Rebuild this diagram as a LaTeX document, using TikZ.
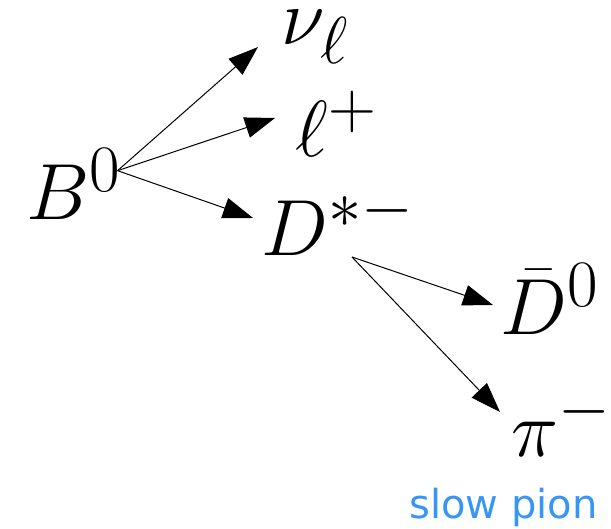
\documentclass[tikz,border=0pt]{standalone}
\usepackage{fontspec}
\usepackage{tikz}
\usetikzlibrary{calc, arrows.meta}
\definecolor{pionBlue}{RGB}{55, 150, 245}
\newfontfamily\tagfont{DejaVu Sans}

\begin{document}
\begin{tikzpicture}[x=0.5pt, y=-0.5pt,
    particle/.style={inner sep=0pt, anchor=base west, font=\Huge, scale=1.6, transform shape},
    decay/.style={line width=0.5pt, -{Triangle[length=15pt, width=10.5pt]}}]
  \useasboundingbox (0,0) rectangle (611,529);

  % Particles
  \node[particle] (B0) at (26,220) {$B^0$};
  \node[particle] (nu) at (281,45) {$\nu_\ell$};
  \node[particle] (lp) at (295,157) {$\ell^+$};
  \node[particle] (Dst) at (261,256) {$D^{*-}$};
  \node[particle] (D0) at (500,335) {$\bar{D}^0$};
  \node[particle] (pi) at (511,457) {$\pi^-$};
  \node[inner sep=0pt, anchor=base east, text=pionBlue, font=\tagfont\fontsize{20}{24}\selectfont]
    (slow) at (598,518) {slow pion};

  % B0 decay
  \draw[decay] ($(B0.north east)+(-5,23)$) -- ($(nu.base west)+(-23,2)$);
  \draw[decay] ($(B0.north east)+(-5,23)$) -- ($(lp.base west)+(-20,-39)$);
  \draw[decay] ($(B0.north east)+(-5,23)$) -- ($(Dst.base west)+(-8,-38)$);

  % D*- decay
  \draw[decay] ($(Dst.base west)+(91,1)$) -- ($(D0.base west)+(-7,-30)$);
  \draw[decay] ($(Dst.base west)+(91,1)$) -- ($(pi.base west)+(-11,-45)$);
\end{tikzpicture}
\end{document}
